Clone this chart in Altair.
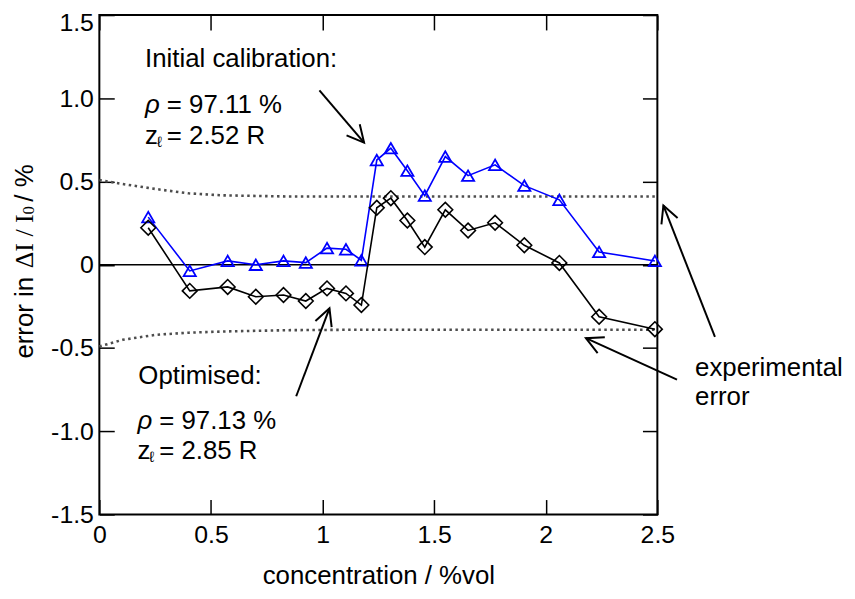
import math
import altair as alt
import pandas as pd

# ---------------- data ----------------
conc = [0.219, 0.405, 0.575, 0.701, 0.825, 0.925, 1.020, 1.105, 1.174, 1.243,
        1.306, 1.380, 1.458, 1.550, 1.652, 1.773, 1.904, 2.061, 2.239, 2.489]
initial_err = [0.286, -0.037, 0.023, 0.000, 0.023, 0.013, 0.100, 0.093, 0.027, 0.629,
               0.700, 0.565, 0.415, 0.650, 0.535, 0.600, 0.475, 0.390, 0.077, 0.023]
optimised_err = [0.222, -0.157, -0.133, -0.192, -0.182, -0.218, -0.142, -0.172, -0.242, 0.342,
                 0.400, 0.266, 0.106, 0.330, 0.206, 0.252, 0.117, 0.011, -0.312, -0.387]

band_x = [0.0, 0.104, 0.252, 0.40, 0.549, 0.845, 1.2, 2.5]
band_upper = [0.509, 0.485, 0.455, 0.429, 0.417, 0.410, 0.410, 0.410]
band_lower = [-0.491, -0.451, -0.421, -0.408, -0.401, -0.393, -0.390, -0.390]

zero_line = [0.0]

x_ticks = [0, 0.5, 1, 1.5, 2, 2.5]
y_ticks = [-1.5, -1.0, -0.5, 0, 0.5, 1.0, 1.5]

ann_text = ["Initial calibration:", "Optimised:", "experimental", "error"]
ann_x = [0.2046, 0.1748, 2.669, 2.669]
ann_y = [1.1865, -0.716, -0.6706, -0.8398]

rho_x = [0.2046, 0.1704]
rho_y = [0.913, -0.989]
rho_val = ["= 97.11 %", "= 97.13 %"]

zl_x = [0.2046, 0.1704]
zl_y = [0.7245, -1.1686]
zl_val = ["= 2.52 R", "= 2.85 R"]

arrow_x1 = [0.986, 0.882, 2.758, 2.588]
arrow_y1 = [1.047, -0.790, -0.433, -0.690]
arrow_x2 = [1.186, 1.031, 2.527, 2.180]
arrow_y2 = [0.734, -0.262, 0.356, -0.441]

# ---------------- layout / style ----------------
W, H = 562, 503
XD = [0, 2.5]
YD = [-1.5, 1.5]
FONT = "Liberation Sans"
SERIF = "Liberation Serif"
FS = 26

xs = alt.Scale(domain=XD, nice=False, zero=False)
ys = alt.Scale(domain=YD, nice=False, zero=False)


def tick_axis(orient, offset, values):
    return alt.Axis(orient=orient, offset=offset, values=values, labels=False,
                    domain=False, ticks=True, tickSize=15, tickColor="black",
                    tickWidth=1.5, grid=False, title=None)


x_main = alt.Axis(orient="bottom", values=x_ticks, ticks=False, domain=False, grid=False,
                  labelFont=FONT, labelFontSize=25, labelColor="black", labelPadding=8,
                  labelFlush=False, labelExpr="format(datum.value, '~g')",
                  title="concentration / %vol", titleFont=FONT,
                  titleFontSize=FS, titleFontWeight="normal", titleColor="black",
                  titlePadding=16)
y_main = alt.Axis(orient="left", values=y_ticks, ticks=False, domain=False, grid=False,
                  labelFont=FONT, labelFontSize=25, labelColor="black", labelPadding=6,
                  labelOffset=alt.condition("datum.value == 1.5", alt.value(8), alt.value(0)),
                  labelExpr="datum.value == 0 ? '0' : (datum.value < 0 ? '-' + "
                            "format(-datum.value, '.1f') : format(datum.value, '.1f'))",
                  title=None)

df_ser = pd.DataFrame({"c": conc, "ini": initial_err, "opt": optimised_err})
df_band = pd.DataFrame({"x": band_x, "up": band_upper, "lo": band_lower})
df_zero = pd.DataFrame({"y": zero_line})
df_ann = pd.DataFrame({"x": ann_x, "y": ann_y, "t": ann_text})
df_rho = pd.DataFrame({"x": rho_x, "y": rho_y, "v": rho_val})
df_zl = pd.DataFrame({"x": zl_x, "y": zl_y, "v": zl_val})


def screen_angle(x1, y1, x2, y2):
    dx = (x2 - x1) * W / (XD[1] - XD[0])
    dy = -(y2 - y1) * H / (YD[1] - YD[0])
    return math.degrees(math.atan2(dx, -dy)) % 360


df_arr = pd.DataFrame({"x1": arrow_x1, "y1": arrow_y1, "x2": arrow_x2, "y2": arrow_y2})
df_arr["ang"] = [screen_angle(a, b, c, d) for a, b, c, d in
                 zip(arrow_x1, arrow_y1, arrow_x2, arrow_y2)]

base_ser = alt.Chart(df_ser)

DOT = dict(color="#4d4d4d", strokeWidth=2.6, strokeDash=[2.5, 3.5])

upper = alt.Chart(df_band).mark_line(**DOT).encode(
    x=alt.X("x:Q", scale=xs, axis=tick_axis("top", -H, x_ticks)),
    y=alt.Y("up:Q", scale=ys, axis=tick_axis("right", -W, y_ticks)),
)
lower = alt.Chart(df_band).mark_line(**DOT).encode(
    x=alt.X("x:Q", scale=xs, axis=tick_axis("bottom", -H, x_ticks)),
    y=alt.Y("lo:Q", scale=ys, axis=tick_axis("left", -W, y_ticks)),
)
zero = alt.Chart(df_zero).mark_rule(color="black", strokeWidth=1.5).encode(
    y=alt.Y("y:Q", scale=ys, axis=None)
)
blue_line = base_ser.mark_line(color="#0000ff", strokeWidth=1.6).encode(
    x=alt.X("c:Q", scale=xs, axis=x_main),
    y=alt.Y("ini:Q", scale=ys, axis=y_main),
)
blue_pts = base_ser.mark_point(shape="triangle-up", size=150, filled=False, color="#0000ff",
                               strokeWidth=1.8, opacity=1).encode(
    x=alt.X("c:Q", scale=xs, axis=None),
    y=alt.Y("ini:Q", scale=ys, axis=None),
)
black_line = base_ser.mark_line(color="black", strokeWidth=1.6).encode(
    x=alt.X("c:Q", scale=xs, axis=None),
    y=alt.Y("opt:Q", scale=ys, axis=None),
)
black_pts = base_ser.mark_point(shape="diamond", size=220, filled=False, color="black",
                                strokeWidth=1.6, opacity=1).encode(
    x=alt.X("c:Q", scale=xs, axis=None),
    y=alt.Y("opt:Q", scale=ys, axis=None),
)


def text_layer(df, size=FS, dx=0, dy=0, font=FONT, style="normal", **kw):
    return alt.Chart(df).mark_text(font=font, fontSize=size, fontStyle=style, align="left",
                                   baseline="alphabetic", color="black", dx=dx, dy=dy,
                                   **kw)


ann = text_layer(df_ann).encode(
    x=alt.X("x:Q", scale=xs, axis=None),
    y=alt.Y("y:Q", scale=ys, axis=None),
    text="t:N",
)
rho_sym = text_layer(df_rho, style="italic", text="\u03c1").encode(
    x=alt.X("x:Q", scale=xs, axis=None),
    y=alt.Y("y:Q", scale=ys, axis=None),
)
rho_txt = text_layer(df_rho, dx=22).encode(
    x=alt.X("x:Q", scale=xs, axis=None),
    y=alt.Y("y:Q", scale=ys, axis=None),
    text="v:N",
)
z_txt = text_layer(df_zl, text="z").encode(
    x=alt.X("x:Q", scale=xs, axis=None),
    y=alt.Y("y:Q", scale=ys, axis=None),
)
l_txt = text_layer(df_zl, size=15, dx=12, dy=3, text="\u2113").encode(
    x=alt.X("x:Q", scale=xs, axis=None),
    y=alt.Y("y:Q", scale=ys, axis=None),
)
v_txt = text_layer(df_zl, dx=22).encode(
    x=alt.X("x:Q", scale=xs, axis=None),
    y=alt.Y("y:Q", scale=ys, axis=None),
    text="v:N",
)

arrows = alt.Chart(df_arr).mark_rule(color="black", strokeWidth=2).encode(
    x=alt.X("x1:Q", scale=xs, axis=None),
    y=alt.Y("y1:Q", scale=ys, axis=None),
    x2="x2:Q",
    y2="y2:Q",
)
heads = alt.Chart(df_arr).mark_point(shape="M -0.46 0.89 L 0 0 L 0.46 0.89", size=1444,
                                     filled=False, color="black", strokeWidth=2,
                                     opacity=1).encode(
    x=alt.X("x2:Q", scale=xs, axis=None),
    y=alt.Y("y2:Q", scale=ys, axis=None),
    angle=alt.Angle("ang:Q", scale=None),
)


# y-axis title assembled from sans and serif pieces (rotated)
def title_piece(txt, font, size, xpx, ypx):
    return alt.Chart(df_zero).mark_text(text=txt, font=font, fontSize=size, angle=270,
                                        align="left", baseline="middle", color="black").encode(
        x=alt.value(xpx), y=alt.value(ypx))


yt1 = title_piece("error in", FONT, FS, -75, 346)
yt2 = title_piece("\u0394I / I", SERIF, FS, -75, 255)
yt3 = title_piece("0", SERIF, 17, -71, 201)
yt4 = title_piece("/ %", FONT, FS, -75, 188)

chart = alt.layer(
    upper, lower, zero, blue_line, blue_pts, black_line, black_pts,
    ann, rho_sym, rho_txt, z_txt, l_txt, v_txt, arrows, heads, yt1, yt2, yt3, yt4,
).resolve_axis(x="independent", y="independent").properties(
    width=W, height=H,
    background="white",
    padding={"left": 92, "top": 5, "right": 191, "bottom": 75},
    autosize=alt.AutoSizeParams(type="none"),
).configure_view(stroke="black", strokeWidth=2)

chart.save("out.html", embed_options={"renderer": "svg", "actions": False})
